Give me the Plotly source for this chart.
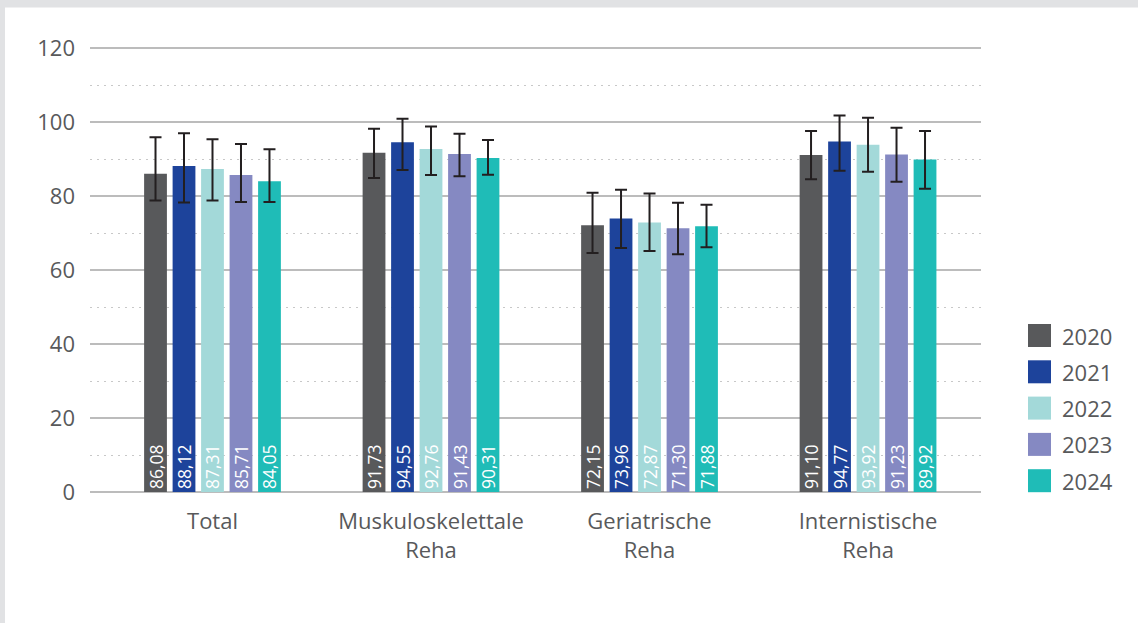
import plotly.graph_objects as go

categories = ["Total", "Muskuloskelettale<br>Reha", "Geriatrische<br>Reha", "Internistische<br>Reha"]
years = ["2020", "2021", "2022", "2023", "2024"]
colors = ["#58595b", "#1d439b", "#a3d9d9", "#8589c2", "#1fbcb7"]

values = {
    "2020": [86.08, 91.73, 72.15, 91.10],
    "2021": [88.12, 94.55, 73.96, 94.77],
    "2022": [87.31, 92.76, 72.87, 93.92],
    "2023": [85.71, 91.43, 71.30, 91.23],
    "2024": [84.05, 90.31, 71.88, 89.92],
}
upper = {
    "2020": [95.9, 98.2, 80.9, 97.6],
    "2021": [97.0, 100.9, 81.7, 101.8],
    "2022": [95.4, 98.8, 80.7, 101.2],
    "2023": [94.1, 96.9, 78.2, 98.5],
    "2024": [92.7, 95.2, 77.7, 97.6],
}
lower = {
    "2020": [78.8, 84.9, 64.6, 84.6],
    "2021": [78.3, 87.1, 66.0, 86.9],
    "2022": [78.8, 85.7, 65.2, 86.6],
    "2023": [78.4, 85.4, 64.3, 83.9],
    "2024": [78.4, 85.8, 66.2, 82.0],
}
y_ticks = [0, 20, 40, 60, 80, 100, 120]

FONT = "Open Sans"
GREY = "#58595b"

fig = go.Figure()
for yr, col in zip(years, colors):
    v = values[yr]
    fig.add_trace(go.Bar(
        name=yr, x=categories, y=v, marker=dict(color=col, line=dict(width=0)),
        text=[f"{a:.2f}".replace(".", ",") for a in v],
        textposition="inside", insidetextanchor="start", textangle=-90,
        constraintext="none",
        textfont=dict(color="white", size=17.5, family=FONT),
        error_y=dict(type="data", symmetric=False,
                     array=[u - a for u, a in zip(upper[yr], v)],
                     arrayminus=[a - l for a, l in zip(v, lower[yr])],
                     color="#231f20", thickness=2, width=6),
        showlegend=False,
    ))

# plot area geometry (pixels)
L, R, T, B = 90, 157, 46, 131
W, H = 1138, 623
pw, ph = W - L - R, H - T - B

def px(x):
    return (x - L) / pw

def py(y):
    return (H - B - y) / ph

shapes = []
# grey frame bands
shapes.append(dict(type="rect", xref="paper", yref="paper", x0=px(0), x1=px(W), y0=py(7.5), y1=py(0),
                   fillcolor="#e1e2e4", line=dict(width=0), layer="below"))
shapes.append(dict(type="rect", xref="paper", yref="paper", x0=px(0), x1=px(5), y0=py(H), y1=py(0),
                   fillcolor="#e1e2e4", line=dict(width=0), layer="below"))

annotations = []
leg_y0 = 335.5
leg_step = 36.3
for i, (yr, col) in enumerate(zip(years, colors)):
    cy = leg_y0 + i * leg_step
    shapes.append(dict(type="rect", xref="paper", yref="paper", x0=px(1028), x1=px(1051),
                       y0=py(cy + 11.5), y1=py(cy - 11.5), fillcolor=col, line=dict(width=0)))
    annotations.append(dict(xref="paper", yref="paper", x=px(1060), y=py(cy), text=yr,
                            showarrow=False, xanchor="left", yanchor="middle",
                            font=dict(size=22, color=GREY, family=FONT)))

fig.update_layout(
    width=W, height=H,
    margin=dict(l=L, r=R, t=T, b=B, pad=0),
    paper_bgcolor="white", plot_bgcolor="white",
    barmode="group", bargap=0.348, bargroupgap=0.2,
    font=dict(family=FONT, color=GREY),
    shapes=shapes, annotations=annotations,
    xaxis=dict(range=[-0.5606, 3.517], showgrid=False, zeroline=False, showline=False,
               ticks="", tickfont=dict(size=22, color=GREY, family=FONT), ticklabelstandoff=14),
    yaxis=dict(range=[0, 120.6], tickvals=y_ticks, showgrid=True, gridcolor="#bcbcbc", gridwidth=1.5,
               zeroline=True, zerolinecolor="#bcbcbc", zerolinewidth=1.5, showline=False,
               ticks="", tickfont=dict(size=22, color=GREY, family=FONT), ticklabelstandoff=14,
               minor=dict(tick0=10, dtick=20, showgrid=True, gridcolor="#c8c8c8", gridwidth=1.2,
                          griddash="1.5px,5.5px")),
)

fig.write_html("out.html", config={"displayModeBar": False},
               post_script="document.body.style.margin='0';document.body.style.overflow='hidden';")
